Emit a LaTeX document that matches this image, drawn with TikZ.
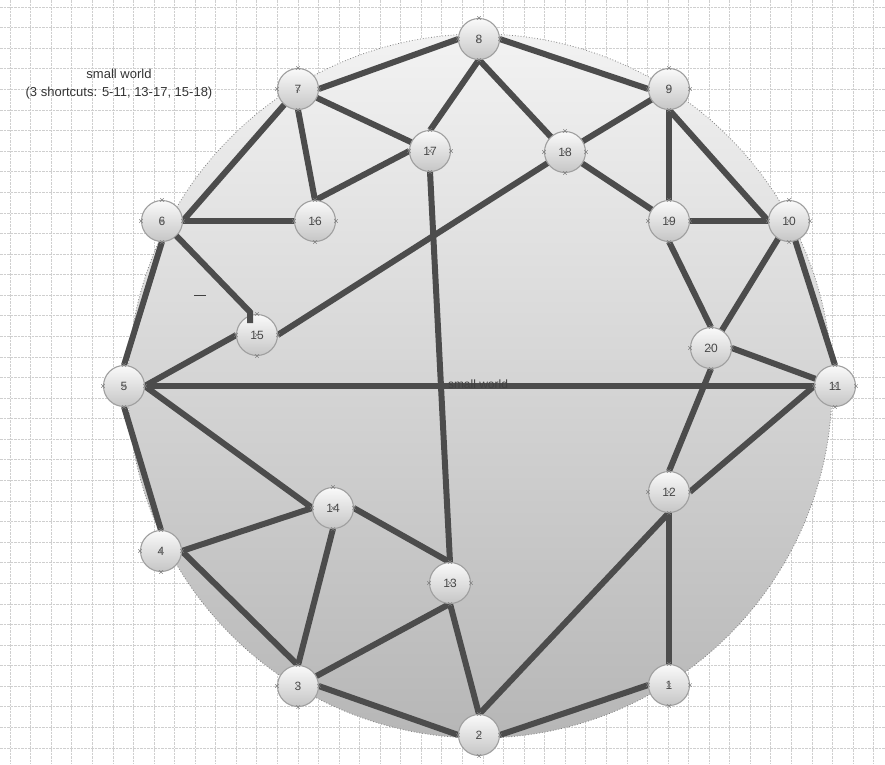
\documentclass[tikz,border=0pt]{standalone}
\usepackage{fontspec}
\setmainfont{Liberation Sans}
\usetikzlibrary{calc}
\begin{document}
\begin{tikzpicture}[x=1pt,y=-1pt,
  gridl/.style={draw=gray!38,line width=0.6pt,dash pattern=on 2.5pt off 1pt},
  ball/.style={circle,minimum size=41pt,inner sep=0pt,draw=gray!75!black!60,line width=1.1pt,
    top color=gray!4,bottom color=gray!45,font=\fontsize{12}{13}\selectfont,text=black!72},
  edge/.style={draw=black!70,line width=6pt},
  xmk/.style={draw=black!50,line width=0.45pt},
  lbl/.style={font=\fontsize{13}{18}\selectfont,text=black!80,align=center}]
\useasboundingbox (0,0) rectangle (885,764);
\fill[white] (0,0) rectangle (885,764);
% grid
\foreach \i in {0,...,42} \draw[gridl] ({10+20.56*\i},0) -- ({10+20.56*\i},764);
\foreach \j in {0,...,37} \draw[gridl] (0,{7+20.58*\j}) -- (885,{7+20.58*\j});
% background disc
\shade[top color=gray!10,bottom color=gray!57] (480,386) circle[radius=352];
\draw[gray,line width=0.8pt,dotted] (480,386) circle[radius=352];
% node positions
\coordinate (p1) at (669,685);
\coordinate (p2) at (479,735);
\coordinate (p3) at (298,686);
\coordinate (p4) at (161,551);
\coordinate (p5) at (124,386);
\coordinate (p6) at (162,221);
\coordinate (p7) at (298,89);
\coordinate (p8) at (479,39);
\coordinate (p9) at (669,89);
\coordinate (p10) at (789,221);
\coordinate (p11) at (835,386);
\coordinate (p12) at (669,492);
\coordinate (p13) at (450,583);
\coordinate (p14) at (333,508);
\coordinate (p15) at (257,335);
\coordinate (p16) at (315,221);
\coordinate (p17) at (430,151);
\coordinate (p18) at (565,152);
\coordinate (p19) at (669,221);
\coordinate (p20) at (711,348);
\foreach \n in {1,...,20} \node[circle,minimum size=41pt,inner sep=0pt] (n\n) at (p\n) {};
% edges
\draw[edge] (n8.west) -- (n7.east);
\draw[edge] (n8.east) -- (n9.west);
\draw[edge] (n8.south) -- (n17.north);
\draw[edge] (n8.south) -- (n18);
\draw[edge] (n7) -- (n17);
\draw[edge] (n7.south) -- (n16.north);
\draw[edge] (n7) -- (n6.east);
\draw[edge] (n17.west) -- (n16.north);
\draw[edge] (n17.south) -- (n13.north);
\draw[edge] (n9) -- (n18);
\draw[edge] (n15.east) -- (n18);
\draw[edge] (n9.south) -- (n19.north);
\draw[edge] (n9.south) -- (n10.west);
\draw[edge] (n18) -- (n19);
\draw[edge] (n19.east) -- (n10.west);
\draw[edge] (n19.south) -- (n20.north);
\draw[edge] (n10) -- (n20);
\draw[edge] (n10) -- (n11.north);
\draw[edge] (n20.east) -- (n11);
\draw[edge] (n20.south) -- (n12.north);
\draw[edge] (n6.east) -- (n16.west);
\draw[edge] (n6.south) -- (n5.north);
\draw[edge] (n5.east) -- (n15.west);
\draw[edge] (n5.east) -- (n11.west);
\draw[edge] (n5.east) -- (n14.west);
\draw[edge] (n5.south) -- (n4.north);
\draw[edge] (n4.east) -- (n14.west);
\draw[edge] (n4.east) -- (n3.north);
\draw[edge] (n14.south) -- (n3.north);
\draw[edge] (n14.east) -- (n13.north);
\draw[edge] (n3) -- (n13.south);
\draw[edge] (n13.south) -- (n2.north);
\draw[edge] (n3.east) -- (n2.west);
\draw[edge] (n2.north) -- (n12.south);
\draw[edge] (n2.east) -- (n1.west);
\draw[edge] (n12.south) -- (n1.north);
\draw[edge] (n12.east) -- (n11.west);
% nodes
\foreach \n in {1,...,20} \node[ball] (b\n) at (p\n) {\n};
% edge 6-15 with its short end piece
\coordinate (c15a) at (250,312);
\coordinate (c15b) at (250,323);
\draw[edge] (n6) -- (c15a) -- (c15b);
% connection point marks
\foreach \n in {1,...,20}
  \foreach \a in {north,south,east,west,center}
    \draw[xmk] ($(b\n.\a)+(-1.7,-1.7)$) -- ($(b\n.\a)+(1.7,1.7)$)
               ($(b\n.\a)+(-1.7,1.7)$) -- ($(b\n.\a)+(1.7,-1.7)$);
% texts
\node[lbl] (title) at (119,84) {small world\\(3 shortcuts: 5-11, 13-17, 15-18)};
\node[font=\fontsize{12}{14}\selectfont,text=black!75] (cw) at (478,384) {small world};
\coordinate (d1) at (194,295);
\coordinate (d2) at (206,295);
\draw[black!75,line width=0.8pt] (d1) -- (d2);
\end{tikzpicture}
\end{document}
